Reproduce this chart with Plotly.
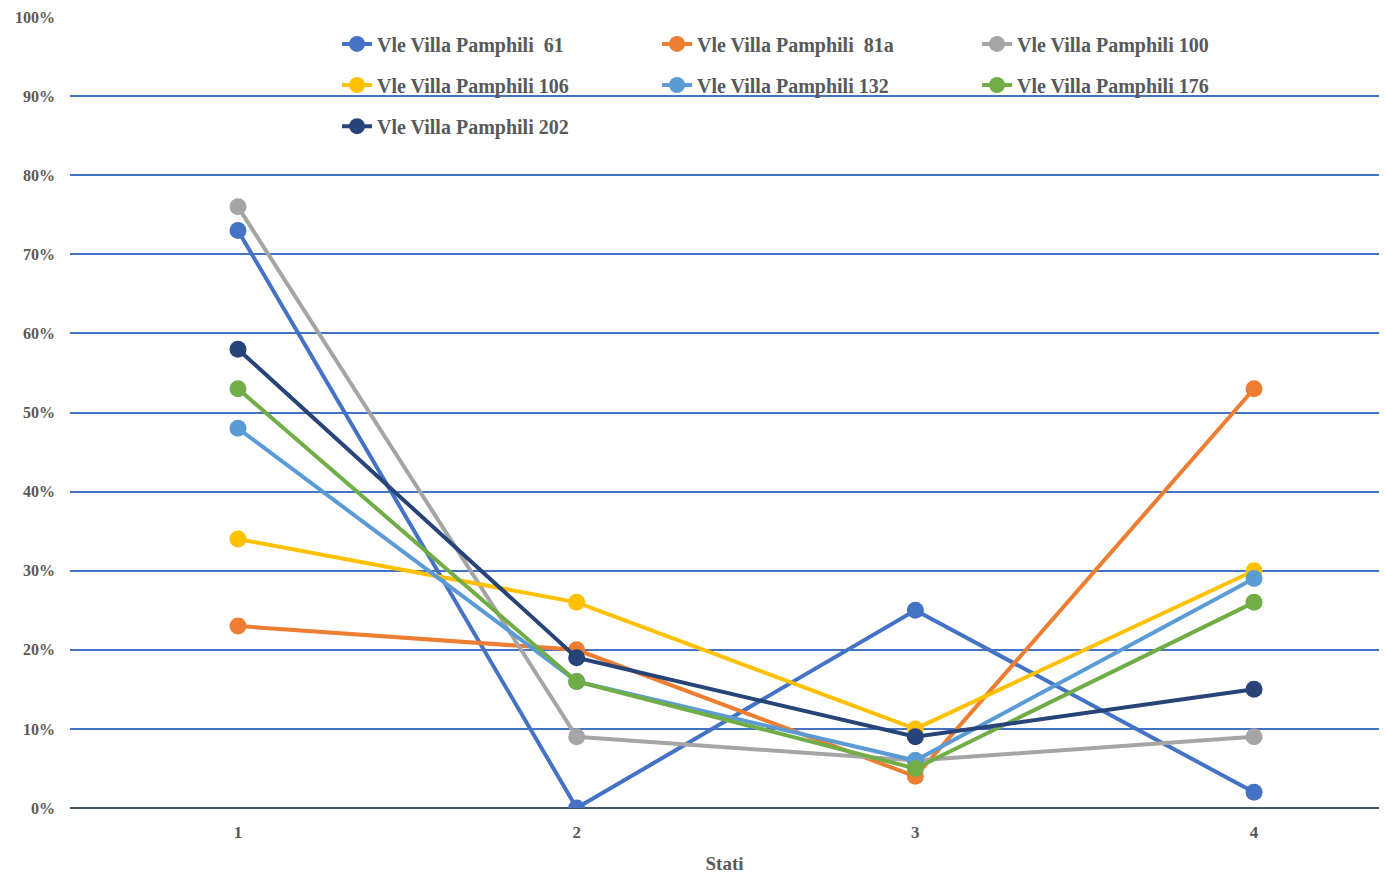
import plotly.graph_objects as go

# Stati (categories) and percentage share per address
stati = [1, 2, 3, 4]
series_names = [
    "Vle Villa Pamphili  61",
    "Vle Villa Pamphili  81a",
    "Vle Villa Pamphili 100",
    "Vle Villa Pamphili 106",
    "Vle Villa Pamphili 132",
    "Vle Villa Pamphili 176",
    "Vle Villa Pamphili 202",
]
v61 = [0.73, 0.00, 0.25, 0.02]
v81a = [0.23, 0.20, 0.04, 0.53]
v100 = [0.76, 0.09, 0.06, 0.09]
v106 = [0.34, 0.26, 0.10, 0.30]
v132 = [0.48, 0.16, 0.06, 0.29]
v176 = [0.53, 0.16, 0.05, 0.26]
v202 = [0.58, 0.19, 0.09, 0.15]
series_values = [v61, v81a, v100, v106, v132, v176, v202]
colors = ["#4472C4", "#ED7D31", "#A5A5A5", "#FFC000", "#5B9BD5", "#70AD47", "#264478"]
y_ticks = [i / 10 for i in range(11)]
y_tick_text = [f"{i * 10}%" for i in range(11)]

FONT = "Liberation Serif"
TXT = "#595959"

fig = go.Figure()
legend_ids = ["legend", "legend", "legend", "legend2", "legend2", "legend2", "legend3"]
for name, vals, col, lg in zip(series_names, series_values, colors, legend_ids):
    fig.add_trace(go.Scatter(
        x=stati, y=vals, name=name, mode="lines+markers",
        line=dict(color=col, width=4),
        marker=dict(color=col, size=17),
        legend=lg,
    ))

leg_common = dict(
    orientation="h", xanchor="left", yanchor="middle",
    entrywidth=275, entrywidthmode="pixels",
    font=dict(family=FONT, size=20, color=TXT, weight="bold"),
    bgcolor="rgba(0,0,0,0)", itemclick=False,
)
fig.update_layout(
    width=1386, height=874,
    margin=dict(l=70, r=7, t=17, b=66),
    paper_bgcolor="white", plot_bgcolor="white",
    legend=dict(x=0.204, y=0.966, **leg_common),
    legend2=dict(x=0.204, y=0.914, **leg_common),
    legend3=dict(x=0.204, y=0.862, **leg_common),
    xaxis=dict(
        range=[0.504, 4.369], tickvals=stati, ticktext=[str(s) for s in stati],
        showgrid=False, zeroline=False, showline=False, ticks="",
        ticklabelstandoff=12, automargin=False,
        tickfont=dict(family=FONT, size=17, color=TXT, weight="bold"),
        title=dict(text="Stati", standoff=22,
                   font=dict(family=FONT, size=19, color=TXT, weight="bold")),
    ),
    yaxis=dict(
        range=[0, 1.0], tickvals=y_ticks, ticktext=y_tick_text,
        showgrid=True, gridcolor="#4472C4", gridwidth=2,
        zeroline=True, zerolinecolor="#44546A", zerolinewidth=2,
        showline=False, ticks="", ticklabelstandoff=14, automargin=False,
        tickfont=dict(family=FONT, size=16, color=TXT, weight="bold"),
    ),
)

fig.write_html("out.html")
